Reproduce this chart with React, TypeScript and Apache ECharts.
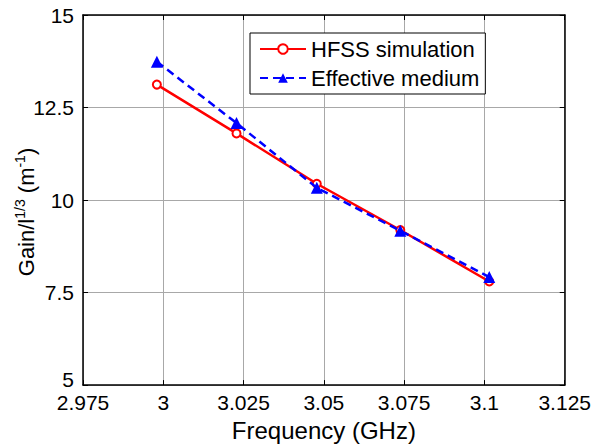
import React, { useEffect, useRef } from "react";
import * as echarts from "echarts";

const freq = [2.998, 3.0228, 3.0478, 3.0738, 3.1015];
const hfss = [13.12, 11.8, 10.44, 9.19, 7.8];
const effective = [13.74, 12.08, 10.33, 9.17, 7.92];
const seriesNames = ["HFSS simulation", "Effective medium"];
const xTitle = "Frequency (GHz)";

const FONT = "'Liberation Sans', Arial, sans-serif";

export default function App() {
  const ref = useRef<HTMLDivElement>(null);
  useEffect(() => {
    if (!ref.current) return;
    const chart = echarts.init(ref.current, undefined, { renderer: "svg" });
    const fmt = (v: number) => parseFloat(v.toFixed(3)).toString();
    const baseX = {
      type: "value",
      min: 2.975,
      max: 3.125,
      interval: 0.025,
    };
    const baseY = {
      type: "value",
      min: 5,
      max: 15,
      interval: 2.5,
    };
    chart.setOption({
      animation: false,
      backgroundColor: "#fff",
      grid: { left: 83, right: 27, top: 15, bottom: 59, containLabel: false },
      legend: {
        orient: "vertical",
        left: 250,
        top: 33,
        backgroundColor: "#fff",
        borderColor: "#000",
        borderWidth: 1,
        borderRadius: 0,
        padding: [5, 6, 5, 9],
        itemWidth: 46,
        itemHeight: 12,
        itemGap: 7,
        textStyle: { fontSize: 22, fontFamily: FONT, color: "#000" },
        data: seriesNames,
      },
      xAxis: [
        {
          ...baseX,
          position: "bottom",
          name: xTitle,
          nameLocation: "middle",
          nameGap: 30,
          nameTextStyle: { fontSize: 24, fontFamily: FONT, color: "#000" },
          axisLine: { show: true, lineStyle: { color: "#000", width: 1.5 } },
          axisTick: { show: true, inside: true, length: 5, lineStyle: { color: "#000" } },
          axisLabel: {
            fontSize: 21,
            fontFamily: FONT,
            color: "#000",
            margin: 7,
            formatter: fmt,
          },
          splitLine: { show: true, lineStyle: { color: "#a8a8a8", width: 1 } },
        },
        {
          ...baseX,
          position: "top",
          axisLine: { show: true, lineStyle: { color: "#000", width: 1.5 } },
          axisTick: { show: true, inside: true, length: 5, lineStyle: { color: "#000" } },
          axisLabel: { show: false },
          splitLine: { show: false },
        },
      ],
      yAxis: [
        {
          ...baseY,
          position: "left",
          axisLine: { show: true, lineStyle: { color: "#000", width: 1.5 } },
          axisTick: { show: true, inside: true, length: 5, lineStyle: { color: "#000" } },
          axisLabel: {
            fontSize: 21,
            fontFamily: FONT,
            color: "#000",
            margin: 9,
            formatter: (v: number) => (v === 5 ? "{lift|" + fmt(v) + "}" : fmt(v)),
            rich: {
              lift: {
                fontSize: 21,
                fontFamily: FONT,
                color: "#000",
                padding: [0, 0, 12, 0],
              },
            },
          },
          splitLine: { show: true, lineStyle: { color: "#a8a8a8", width: 1 } },
        },
        {
          ...baseY,
          position: "right",
          axisLine: { show: true, lineStyle: { color: "#000", width: 1.5 } },
          axisTick: { show: true, inside: true, length: 5, lineStyle: { color: "#000" } },
          axisLabel: { show: false },
          splitLine: { show: false },
        },
      ],
      graphic: [
        {
          type: "text",
          x: 26,
          y: 212,
          rotation: Math.PI / 2,
          style: {
            text: "Gain/l{sup|1/3} (m{sup|-1})",
            fontSize: 22,
            fontFamily: FONT,
            fill: "#000",
            align: "center",
            verticalAlign: "middle",
            lineHeight: 26,
            rich: {
              sup: {
                fontSize: 14,
                fontFamily: FONT,
                fill: "#000",
                verticalAlign: "top",
                lineHeight: 14,
              },
            },
          },
        },
      ],
      series: [
        {
          name: seriesNames[0],
          type: "line",
          data: freq.map((f, i) => [f, hfss[i]]),
          symbol: "emptyCircle",
          symbolSize: 8,
          lineStyle: { color: "#ff0000", width: 2.5, type: "solid" },
          itemStyle: { color: "#ff0000", borderColor: "#ff0000", borderWidth: 2 },
          z: 3,
        },
        {
          name: seriesNames[1],
          type: "line",
          data: freq.map((f, i) => [f, effective[i]]),
          symbol: "triangle",
          symbolSize: 12,
          lineStyle: { color: "#0000ff", width: 2.5, type: [8, 5] },
          itemStyle: { color: "#0000ff" },
          z: 4,
        },
      ],
    });
    return () => chart.dispose();
  }, []);
  return (
    <div
      ref={ref}
      style={{ position: "fixed", left: 0, top: 0, width: 594, height: 447 }}
    />
  );
}
